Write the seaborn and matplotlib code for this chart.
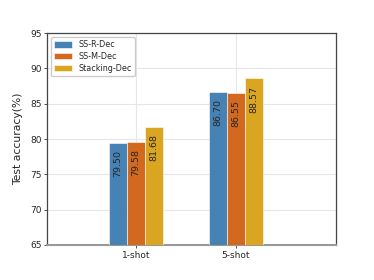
import matplotlib
matplotlib.use("Agg")
import matplotlib.pyplot as plt
import seaborn as sns
import pandas as pd

shots = ["1-shot", "5-shot"]
methods = ["SS-R-Dec", "SS-M-Dec", "Stacking-Dec"]
acc_r = [79.50, 86.70]
acc_m = [79.58, 86.55]
acc_s = [81.68, 88.57]
colors = ["#4682B4", "#D2691E", "#DAA520"]

rows = []
for m, vals in zip(methods, [acc_r, acc_m, acc_s]):
    for s, v in zip(shots, vals):
        rows.append({"shot": s, "method": m, "acc": v})
df = pd.DataFrame(rows)

sns.set_style("whitegrid")
plt.rcParams["font.family"] = ["DejaVu Sans"]

fig = plt.figure(figsize=(3.74, 2.8), dpi=100)
ax = fig.add_axes([47 / 374, 35 / 280, 289 / 374, 212 / 280])

sns.barplot(data=df, x="shot", y="acc", hue="method", palette=colors,
            saturation=1, width=0.54, edgecolor="white", linewidth=0.4,
            ax=ax, zorder=3)

# value labels, rotated, just inside the top of each bar
for cont in ax.containers:
    for bar in cont:
        h = bar.get_height()
        ax.text(bar.get_x() + bar.get_width() / 2, h - 1.0, f"{h:.2f}",
                rotation=90, ha="center", va="top", fontsize=6.8, zorder=4)

ax.set_ylim(65, 95)
ax.set_xlim(-0.89, 2.0)
ax.set_yticks([65, 70, 75, 80, 85, 90, 95])
ax.set_xlabel("")
ax.set_ylabel("Test accuracy(%)", fontsize=7.8, labelpad=5)
ax.tick_params(axis="both", labelsize=6.5, length=2.5, width=0.6, pad=1.5,
               left=True, bottom=True, color="#333333")
ax.grid(True, color="#e6e6e6", linewidth=0.8, zorder=0)
ax.set_axisbelow(True)
for sp in ax.spines.values():
    sp.set_color("#444444")
    sp.set_linewidth(0.9)
ax.spines["bottom"].set_color("#999999")
ax.spines["bottom"].set_linewidth(1.5)

ax.legend(loc="upper left", fontsize=5.8, frameon=True, framealpha=1,
          edgecolor="#cccccc", handlelength=2.2, handleheight=0.8,
          borderpad=0.4, labelspacing=0.35, fancybox=True)

fig.savefig("out.png", dpi=100)
